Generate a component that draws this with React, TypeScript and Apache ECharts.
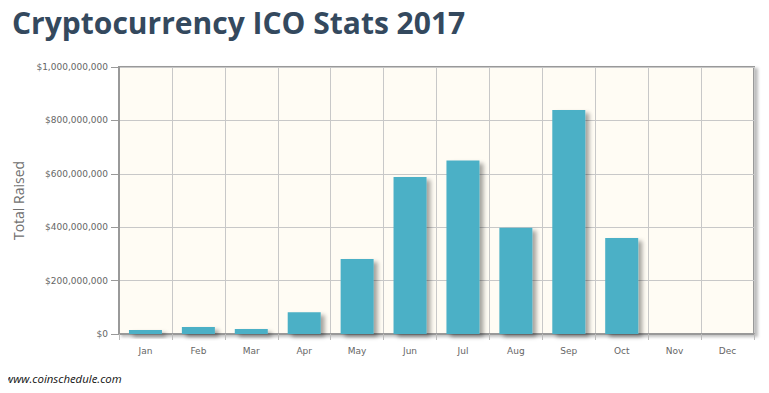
import React, { useEffect, useRef } from "react";
import * as echarts from "echarts";

const months = ["Jan", "Feb", "Mar", "Apr", "May", "Jun", "Jul", "Aug", "Sep", "Oct", "Nov", "Dec"];
const totalRaised = [15000000, 26000000, 19000000, 81000000, 281000000, 588000000, 650000000, 398000000, 839000000, 360000000, 0, 0];
const titleText = "Cryptocurrency ICO Stats 2017";
const yAxisName = "Total Raised";
const sourceText = "www.coinschedule.com";

function fmt(v: number) {
  return "$" + v.toString().replace(/\B(?=(\d{3})+(?!\d))/g, ",");
}

export default function App() {
  const ref = useRef<HTMLDivElement>(null);
  useEffect(() => {
    if (!ref.current) return;
    const chart = echarts.init(ref.current, null, { renderer: "svg" });
    chart.setOption({
      animation: false,
      backgroundColor: "#ffffff",
      title: {
        text: titleText,
        left: 7,
        top: 2,
        textStyle: {
          fontFamily: "Open Sans",
          fontWeight: "bold",
          fontSize: 30,
          color: "#34495e",
        },
      },
      graphic: [
        {
          type: "text",
          left: 5,
          top: 373,
          style: {
            text: sourceText,
            font: "italic 11.4px 'Open Sans'",
            fill: "#111",
          },
        },
      ],
      grid: {
        left: 119,
        right: 15,
        top: 67,
        bottom: 59,
        show: true,
        backgroundColor: "#fffcf4",
        borderColor: "#999",
        borderWidth: 2,
        shadowColor: "rgba(0,0,0,0.25)",
        shadowBlur: 3,
        shadowOffsetX: 3,
        shadowOffsetY: 2,
      },
      xAxis: {
        type: "category",
        data: months,
        axisLine: { show: true, lineStyle: { color: "#999", width: 2 } },
        axisTick: { show: true, alignWithLabel: false, length: 6, lineStyle: { color: "#bbb" } },
        axisLabel: { color: "#666", fontSize: 9, fontFamily: "DejaVu Sans", margin: 12 },
        splitLine: { show: true, lineStyle: { color: "#c8c8c8", width: 1 } },
      },
      yAxis: {
        type: "value",
        min: 0,
        max: 1000000000,
        interval: 200000000,
        name: yAxisName,
        nameLocation: "middle",
        nameGap: 93,
        nameTextStyle: { color: "#707070", fontSize: 14, fontFamily: "Open Sans" },
        axisLine: { show: true, lineStyle: { color: "#999", width: 2 } },
        axisTick: { show: true, length: 8, lineStyle: { color: "#999" } },
        axisLabel: {
          color: "#666",
          fontSize: 9,
          fontFamily: "DejaVu Sans",
          margin: 11,
          formatter: (v: number) => fmt(v),
        },
        splitLine: { show: true, lineStyle: { color: "#c8c8c8", width: 1 } },
      },
      series: [
        {
          type: "bar",
          data: totalRaised,
          barWidth: 33,
          itemStyle: {
            color: "#4bb0c6",
            shadowColor: "rgba(0,0,0,0.35)",
            shadowBlur: 4,
            shadowOffsetX: 4,
            shadowOffsetY: 3,
          },
        },
      ],
    });
    return () => chart.dispose();
  }, []);
  return <div ref={ref} style={{ width: 769, height: 393, margin: -8 }} />;
}
